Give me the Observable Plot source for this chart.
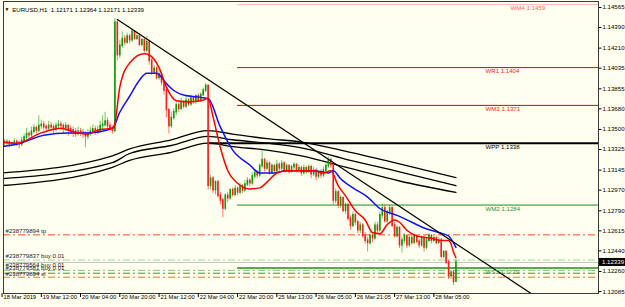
<!DOCTYPE html>
<html><head><meta charset="utf-8">
<script src="https://cdn.jsdelivr.net/npm/d3@7"></script>
<script src="https://cdn.jsdelivr.net/npm/@observablehq/plot@0.6"></script>
<style>html,body{margin:0;padding:0;background:#fffff0;overflow:hidden}</style>
</head><body><div id="chart"></div>
<script>
// ---------- DATA (EURUSD H1, bar 0 = 18 Mar 2019 20:00) ----------
const symbol = "EURUSD,H1";
const opens = [
1.1341,1.1339,1.1338,1.1339,1.1337,1.1338,1.1339,1.1338,1.1337,1.1340,
1.1343,1.1346,1.1345,1.1348,1.1351,1.1349,1.1353,1.1354,1.1352,1.1351,
1.1353,1.1352,1.1350,1.1353,1.1354,1.1353,1.1351,1.1353,1.1350,1.1349,
1.1348,1.1346,1.1348,1.1347,1.1346,1.1344,1.1346,1.1348,1.1350,1.1347,
1.1349,1.1353,1.1354,1.1357,1.1353,1.1351,
1.1349,1.1443,1.1415,1.1423,1.1429,1.1426,1.1431,1.1428,1.1435,1.1429,
1.1431,1.1424,1.1428,1.1419,1.1426,1.1410,1.1400,1.1403,1.1395,1.1398,
1.1391,1.1384,1.1367,1.1353,1.1360,1.1365,1.1371,1.1368,1.1374,1.1370,
1.1375,1.1372,1.1377,1.1374,1.1379,1.1375,1.1380,1.1384,1.1388,
1.1301,1.1307,1.1297,1.1304,1.1292,1.1288,1.1281,1.1292,1.1290,1.1297,
1.1293,1.1298,1.1295,1.1300,1.1297,1.1302,1.1305,1.1303,1.1309,1.1312,
1.1310,1.1318,1.1323,1.1316,1.1320,1.1312,1.1318,1.1314,1.1319,1.1316,
1.1320,1.1314,1.1318,1.1313,1.1317,1.1319,1.1314,1.1316,1.1312,1.1316,
1.1313,1.1317,1.1311,1.1314,1.1309,1.1312,1.1310,1.1314,1.1318,1.1323,
1.1319,1.1288,1.1295,1.1284,1.1290,1.1279,1.1284,1.1272,1.1266,1.1275,
1.1269,1.1262,1.1266,1.1257,1.1253,1.1251,1.1257,1.1255,1.1266,1.1262,
1.1275,1.1281,1.1270,1.1278,1.1281,1.1266,1.1257,1.1264,1.1249,1.1253,
1.1257,1.1249,1.1255,1.1251,1.1257,1.1252,1.1249,1.1255,1.1247,1.1253,
1.1257,1.1253,1.1255,1.1251,1.1253,1.1239,1.1243,1.1234,1.1222,1.1225,
1.12171];
const highs = [
1.1344,1.1341,1.1341,1.1340,1.1339,1.1342,1.1341,1.1340,1.1343,1.1346,
1.1351,1.1348,1.1352,1.1354,1.1353,1.1362,1.1358,1.1357,1.1354,1.1357,
1.1356,1.1354,1.1356,1.1358,1.1357,1.1355,1.1356,1.1354,1.1353,1.1352,
1.1351,1.1352,1.1351,1.1350,1.1348,1.1350,1.1352,1.1354,1.1353,1.1353,
1.1357,1.1362,1.1365,1.1360,1.1356,1.1353,
1.1447,1.1445,1.1428,1.1435,1.1432,1.1434,1.1433,1.1438,1.1436,1.1434,
1.1433,1.1429,1.1429,1.1431,1.1428,1.1412,1.1406,1.1405,1.1403,1.1400,
1.1393,1.1386,1.1368,1.1365,1.1368,1.1374,1.1374,1.1377,1.1375,1.1379,
1.1377,1.1380,1.1379,1.1380,1.1381,1.1382,1.1386,1.1390,1.1389,
1.1310,1.1309,1.1305,1.1305,1.1295,1.1290,1.1294,1.1295,1.1298,1.1299,
1.1301,1.1300,1.1303,1.1302,1.1305,1.1308,1.1307,1.1312,1.1315,1.1314,
1.1320,1.1332,1.1325,1.1323,1.1322,1.1320,1.1319,1.1323,1.1321,1.1323,
1.1322,1.1320,1.1319,1.1319,1.1321,1.1320,1.1319,1.1318,1.1319,1.1318,
1.1319,1.1319,1.1317,1.1316,1.1314,1.1315,1.1317,1.1320,1.1326,1.1325,
1.1320,1.1298,1.1297,1.1292,1.1291,1.1286,1.1285,1.1275,1.1278,1.1277,
1.1271,1.1269,1.1268,1.1260,1.1256,1.1260,1.1260,1.1269,1.1269,1.1278,
1.1285,1.1284,1.1279,1.1284,1.1283,1.1269,1.1266,1.1265,1.1256,1.1259,
1.1258,1.1257,1.1257,1.1258,1.1258,1.1254,1.1257,1.1257,1.1255,1.1259,
1.1258,1.1257,1.1257,1.1256,1.1255,1.1244,1.1244,1.1236,1.1227,1.1227,
1.12364];
const lows = [
1.1337,1.1335,1.1336,1.1334,1.1335,1.1336,1.1335,1.1333,1.1335,1.1339,
1.1341,1.1342,1.1343,1.1346,1.1346,1.1347,1.1350,1.1349,1.1347,1.1349,
1.1349,1.1346,1.1348,1.1351,1.1349,1.1346,1.1348,1.1344,1.1346,1.1343,
1.1343,1.1344,1.1344,1.1342,1.1334,1.1341,1.1344,1.1346,1.1345,1.1346,
1.1347,1.1350,1.1352,1.1351,1.1348,1.1346,
1.1347,1.1410,1.1412,1.1421,1.1423,1.1424,1.1425,1.1426,1.1428,1.1428,
1.1422,1.1422,1.1417,1.1417,1.1406,1.1397,1.1398,1.1393,1.1393,1.1388,
1.1380,1.1360,1.1346,1.1351,1.1358,1.1362,1.1365,1.1367,1.1368,1.1368,
1.1370,1.1370,1.1372,1.1372,1.1374,1.1374,1.1379,1.1382,1.1297,
1.1297,1.1294,1.1293,1.1290,1.1284,1.1273,1.1279,1.1286,1.1288,1.1291,
1.1291,1.1292,1.1293,1.1294,1.1295,1.1300,1.1300,1.1301,1.1307,1.1307,
1.1308,1.1316,1.1313,1.1314,1.1310,1.1311,1.1312,1.1312,1.1313,1.1314,
1.1312,1.1312,1.1311,1.1312,1.1314,1.1312,1.1312,1.1309,1.1310,1.1311,
1.1312,1.1307,1.1309,1.1305,1.1307,1.1307,1.1308,1.1312,1.1316,1.1316,
1.1284,1.1285,1.1281,1.1281,1.1277,1.1276,1.1270,1.1262,1.1264,1.1266,
1.1259,1.1259,1.1255,1.1250,1.1243,1.1249,1.1251,1.1253,1.1259,1.1260,
1.1272,1.1268,1.1268,1.1275,1.1264,1.1255,1.1255,1.1246,1.1242,1.1250,
1.1246,1.1247,1.1249,1.1250,1.1250,1.1246,1.1247,1.1243,1.1245,1.1251,
1.1250,1.1251,1.1249,1.1250,1.1237,1.1237,1.1232,1.1219,1.1219,1.1214,
1.12171];
const closes = [
1.1339,1.1338,1.1339,1.1337,1.1338,1.1339,1.1338,1.1337,1.1340,1.1343,
1.1346,1.1345,1.1348,1.1351,1.1349,1.1353,1.1354,1.1352,1.1351,1.1353,
1.1352,1.1350,1.1353,1.1354,1.1353,1.1351,1.1353,1.1350,1.1349,1.1348,
1.1346,1.1348,1.1347,1.1346,1.1344,1.1346,1.1348,1.1350,1.1347,1.1349,
1.1353,1.1354,1.1357,1.1353,1.1351,1.1349,
1.1443,1.1415,1.1423,1.1429,1.1426,1.1431,1.1428,1.1435,1.1429,1.1431,
1.1424,1.1428,1.1419,1.1426,1.1410,1.1400,1.1403,1.1395,1.1398,1.1391,
1.1384,1.1367,1.1353,1.1360,1.1365,1.1371,1.1368,1.1374,1.1370,1.1375,
1.1372,1.1377,1.1374,1.1379,1.1375,1.1380,1.1384,1.1388,1.1301,
1.1307,1.1297,1.1304,1.1292,1.1288,1.1281,1.1292,1.1290,1.1297,1.1293,
1.1298,1.1295,1.1300,1.1297,1.1302,1.1305,1.1303,1.1309,1.1312,1.1310,
1.1318,1.1323,1.1316,1.1320,1.1312,1.1318,1.1314,1.1319,1.1316,1.1320,
1.1314,1.1318,1.1313,1.1317,1.1319,1.1314,1.1316,1.1312,1.1316,1.1313,
1.1317,1.1311,1.1314,1.1309,1.1312,1.1310,1.1314,1.1318,1.1323,1.1319,
1.1288,1.1295,1.1284,1.1290,1.1279,1.1284,1.1272,1.1266,1.1275,1.1269,
1.1262,1.1266,1.1257,1.1253,1.1251,1.1257,1.1255,1.1266,1.1262,1.1275,
1.1281,1.1270,1.1278,1.1281,1.1266,1.1257,1.1264,1.1249,1.1253,1.1257,
1.1249,1.1255,1.1251,1.1257,1.1252,1.1249,1.1255,1.1247,1.1253,1.1257,
1.1253,1.1255,1.1251,1.1253,1.1239,1.1243,1.1234,1.1222,1.1225,1.1217,
1.12339];

// Moving averages (bar index, price)
const redIdx = [0,6,16,24,29,35,40,45,46,48,52,58,60,64,67,71,76,81,84,86,89,92,96,101,105,108,112,116,122,127,131,134,137,140,144,148,151,154,157,160,162,165,169,175,179,182,183,184,185];
const redVal = [1.1339,1.1338,1.1347,1.1351,1.1348,1.1346,1.1350,1.1351,1.1355,1.1387,1.1408,1.1416,1.1415,1.1404,1.1387,1.1375,1.1374,1.1375,1.1377,1.1361,1.1334,1.1314,1.1303,1.1298,1.1299,1.1304,1.1312,1.1314,1.1314,1.1314,1.1312,1.1314,1.1301,1.1292,1.1279,1.1271,1.1260,1.1259,1.1267,1.1271,1.1269,1.1262,1.1257,1.1255,1.1253,1.1253,1.1250,1.1243,1.1238];
const blueIdx = [0,6,17,27,35,45,48,52,56,59,63,67,70,74,81,84,89,94,101,105,111,116,127,133,135,138,143,149,154,161,167,172,178,182,184,185];
const blueVal = [1.1335,1.1337,1.1345,1.1347,1.1347,1.1351,1.1365,1.1379,1.1393,1.1399,1.1399,1.1390,1.1384,1.1380,1.1378,1.1377,1.1352,1.1332,1.1319,1.1312,1.1312,1.1314,1.1314,1.1312,1.1314,1.1307,1.1299,1.1291,1.1281,1.1275,1.1269,1.1264,1.1260,1.1257,1.1251,1.1247];
// Three black envelope lines
const bandIdx = [0,45,52,69,84,94,108,122,142,162,185];
const bandTop = [1.1312,1.1327,1.1333,1.1341,1.1349,1.1346,1.1342,1.1339,1.1330,1.1320,1.1308];
const bandMid = [1.1307,1.1321,1.1329,1.1336,1.1344,1.1341,1.1338,1.1334,1.1323,1.1313,1.1301];
const bandLow = [1.1301,1.1317,1.1323,1.1330,1.1338,1.1335,1.1332,1.1327,1.1316,1.1305,1.1295];
// Trend line anchors (bar index, price)
const trendIdx = [47, 215.5];
const trendVal = [1.1446, 1.1207];
// Weekly pivot levels
const levelNames = ["WM4","WR1","WM3","WPP","WM2","WS1"];
const levelValues = [1.1459,1.1404,1.1371,1.1338,1.1284,1.1229];
const levelStart = [96,96,96,84,96,96];
// Order lines
const orderLabels = ["#238779894 tp","#238779837 buy 0.01","#238779564 buy 0.01","#238779581 buy 0.01","#238779894 sl"];
const orderPrices = [1.1258,1.1236,1.1227,1.12245,1.1221];
const bid = 1.12339;
// Axis ticks
const xTickIdx = [0,16,32,48,64,80,96,112,128,144,160,176];
const xTickLabels = ["18 Mar 2019","19 Mar 12:00","20 Mar 04:00","20 Mar 20:00","21 Mar 12:00","22 Mar 04:00","22 Mar 20:00","25 Mar 13:00","26 Mar 05:00","26 Mar 21:05","27 Mar 13:00","28 Mar 05:00"];
const yTicks = [1.14565,1.14390,1.14210,1.14035,1.13855,1.13680,1.13500,1.13325,1.13145,1.12970,1.12790,1.12615,1.12440,1.12260,1.12085];

// ---------- STYLE ----------
const levelStroke = ["#ffb4bc","#e60000","#e60000","#000000","#1a8f1a","#1a8f1a"];
const levelWidth = [1,1,1,2,1,1.6];
const levelText = ["#ff6070","#ff2020","#ff2020","#000000","#2f8f2f","#3f9a3f"];
const orderStroke = ["#ff4a24","#98d898","#7cc87c","#2e9e2e","#ff6a34"];
const orderDy = [-3.6,-3.6,-5.5,-5.2,-3.4];
const FS = 6.1, FSX = 5.8;
const FONT = "'Liberation Sans', Arial, sans-serif";

// ---------- BUILD ----------
const bars = opens.map((o, i) => ({i, o, h: highs[i], l: lows[i], c: closes[i], up: closes[i] >= o}));
const red = redIdx.map((i, k) => ({i, v: redVal[k]}));
const blue = blueIdx.map((i, k) => ({i, v: blueVal[k]}));
const bands = [bandTop, bandMid, bandLow].map(arr => bandIdx.map((i, k) => ({i, v: arr[k]})));
const trend = trendIdx.map((i, k) => ({i, v: trendVal[k]}));
const levels = levelNames.map((n, k) => ({n, v: levelValues[k], s: levelStart[k], k}));
const orders = orderLabels.map((t, k) => ({t, p: orderPrices[k], k}));
const xt = xTickIdx.map((i, k) => ({i, label: xTickLabels[k]}));
const last = bars[bars.length - 1];
const title = `${symbol}  ${last.o.toFixed(5)} ${last.h.toFixed(5)} ${last.l.toFixed(5)} ${last.c.toFixed(5)}`;
const lvlText = d => `${d.n} ${d.v.toFixed(4)}`;

const chart = Plot.plot({
  width: 625, height: 307,
  marginLeft: 3, marginRight: 27, marginTop: 1, marginBottom: 14,
  x: {domain: [0.6, 243.1], axis: null},
  y: {domain: [1.12068, 1.14617], axis: null, label: null},
  style: {background: "#fffff0", fontFamily: FONT, fontSize: FS + "px", color: "#000"},
  marks: [
    ...bands.map(b => Plot.line(b, {x: "i", y: "v", stroke: "#000", strokeWidth: 1.3, curve: "monotone-x", clip: true})),
    Plot.ruleY(levels, {y: "v", x1: "s", x2: 243.1, stroke: d => levelStroke[d.k], strokeWidth: d => levelWidth[d.k], clip: true}),
    Plot.ruleY(orders, {y: "p", stroke: d => orderStroke[d.k], strokeWidth: 1, strokeDasharray: "7,3,2,3"}),
    Plot.ruleY([bid], {stroke: "#c4c4c4", strokeWidth: 1}),
    Plot.ruleX(bars, {x: "i", y1: "l", y2: "h", stroke: d => d.up ? "#10a010" : "#ff2020", strokeOpacity: 0.6, strokeWidth: 1, clip: true}),
    Plot.ruleX(bars, {x: "i", y1: d => Math.min(d.o, d.c), y2: d => Math.max(d.o, d.c), stroke: d => d.up ? "#0a9a0a" : "#ff1a1a", strokeWidth: 1.6, strokeLinecap: "square", clip: true}),
    Plot.line(blue, {x: "i", y: "v", stroke: "#1010ff", strokeWidth: 1.5, curve: "monotone-x", clip: true}),
    Plot.line(red, {x: "i", y: "v", stroke: "#ff0000", strokeWidth: 1.5, curve: "monotone-x", clip: true}),
    Plot.line(trend, {x: "i", y: "v", stroke: "#000", strokeWidth: 1.2, clip: true}),
    Plot.frame({stroke: "#3a3a3a", strokeWidth: 1}),
    // level labels
    Plot.text(levels.filter(d => d.n === "WM4"), {y: "v", text: lvlText, frameAnchor: "right", dx: -88, textAnchor: "start", dy: 3.5, fill: d => levelText[d.k], fontSize: FS}),
    Plot.text(levels.filter(d => d.n !== "WM4"), {y: "v", text: lvlText, frameAnchor: "right", dx: -113, textAnchor: "start", dy: 3.5, fill: d => levelText[d.k], fontSize: FS}),
    // order labels (each sits just above its own line)
    ...orders.map(o => Plot.text([o], {y: "p", text: "t", frameAnchor: "left", dx: 2, dy: orderDy[o.k], textAnchor: "start", fill: "#222", fontSize: FS})),
    // y axis (right)
    Plot.axisY(yTicks, {anchor: "right", tickSize: 2.5, tickPadding: 1.5, tickFormat: d => d.toFixed(5), fontSize: FS, label: null, stroke: "#000"}),
    // price tag
    Plot.rect([bid], {y1: d => d, y2: d => d, insetLeft: 596, insetRight: -27, insetTop: -4, insetBottom: -4, fill: "#000"}),
    Plot.text([bid], {y: d => d, text: d => d.toFixed(5), frameAnchor: "right", dx: 3.5, textAnchor: "start", fill: "#fff", fontSize: FS}),
    // x axis
    Plot.ruleX(xt, {x: "i", insetTop: 292, insetBottom: -4, stroke: "#000", strokeWidth: 1}),
    Plot.text(xt, {x: "i", text: "label", frameAnchor: "bottom", dy: 5.6, dx: 1.5, textAnchor: "start", fill: "#000", fontSize: FSX}),
    // title
    Plot.text(["\u25BC"], {frameAnchor: "top-left", dx: 3.5, dy: 6, textAnchor: "middle", fontSize: 5, fill: "#000"}),
    Plot.text([title], {frameAnchor: "top-left", dx: 8.7, dy: 6.2, textAnchor: "start", fill: "#000", fontSize: FS})
  ]
});
document.getElementById("chart").appendChild(chart);
</script>
</body></html>
